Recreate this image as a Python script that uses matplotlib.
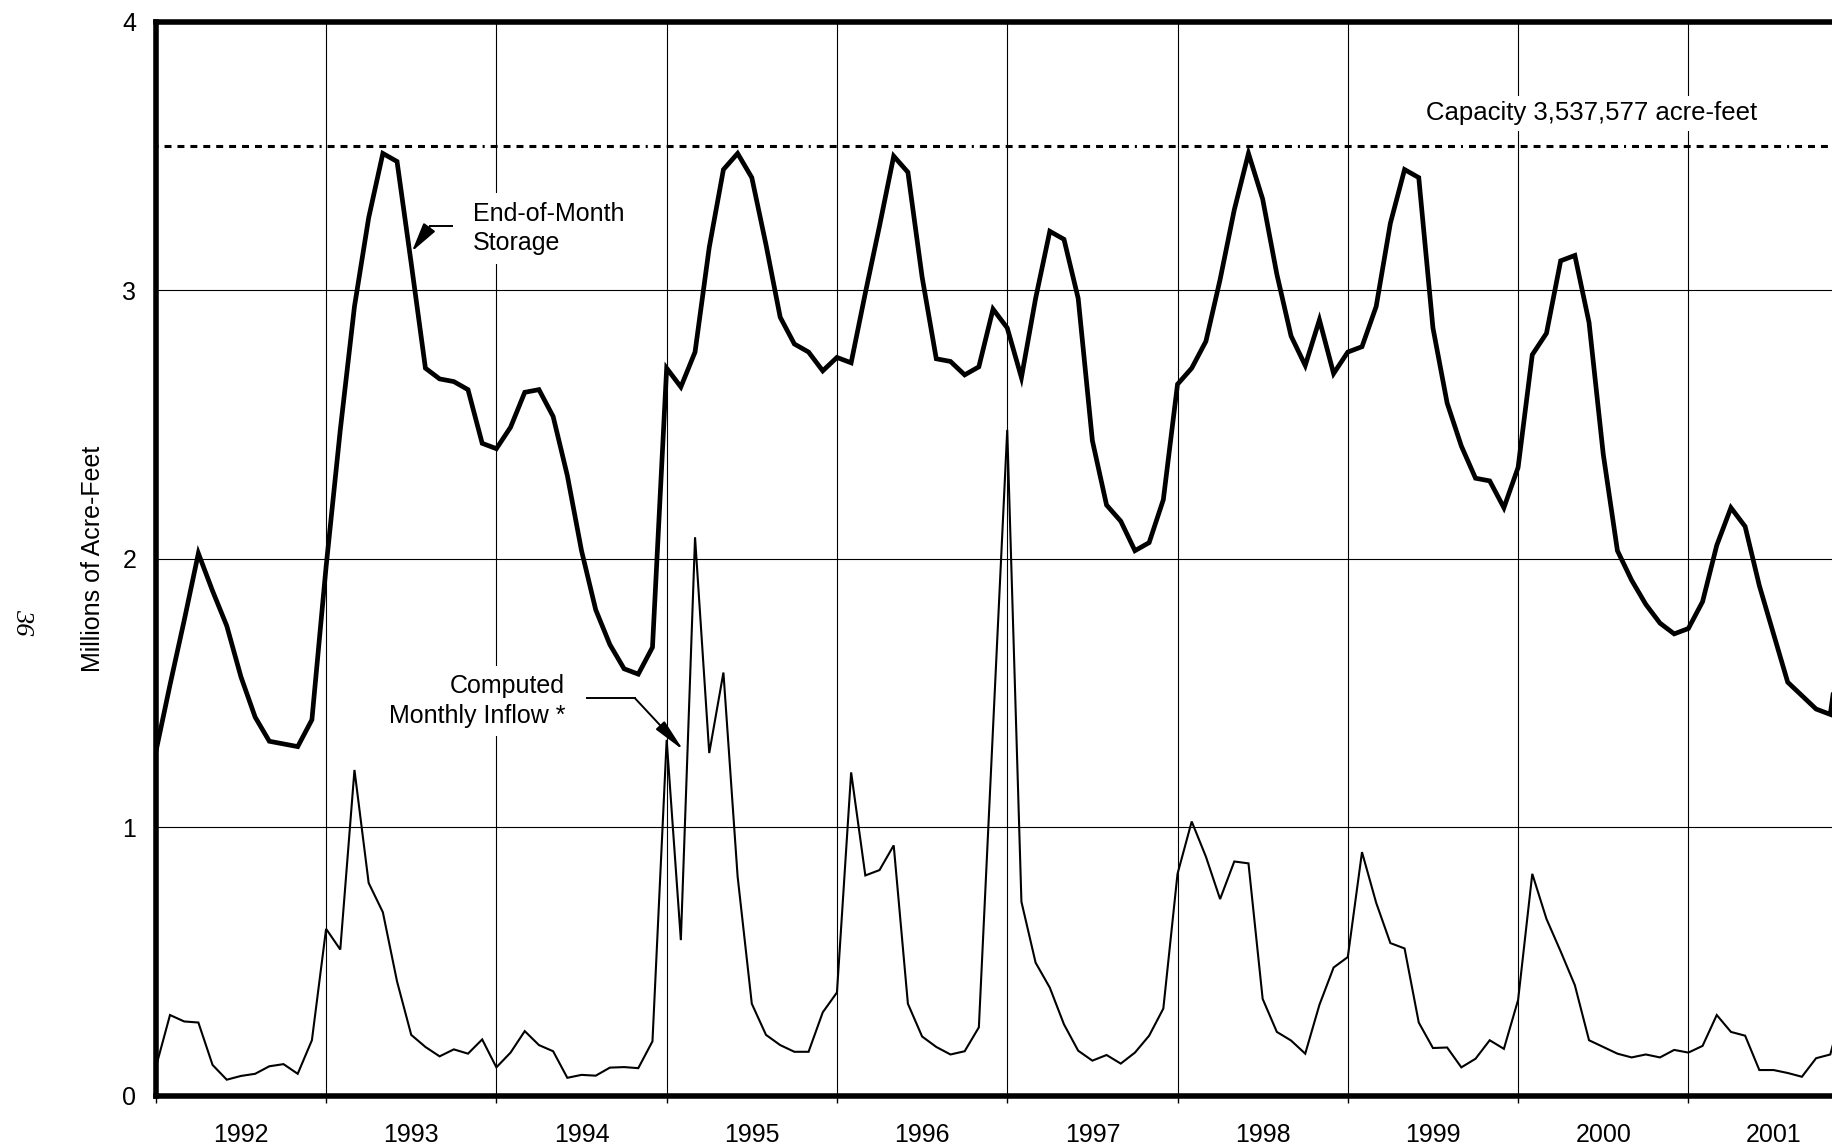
import numpy as np
import matplotlib
matplotlib.use("Agg")
import matplotlib.pyplot as plt

# End-of-month storage and computed monthly inflow, millions of acre-feet
# one value per month starting January 1992
storage = [1.28, 1.53, 1.77, 2.02, 1.88, 1.75, 1.56, 1.41, 1.32, 1.31, 1.30, 1.40,
           1.97, 2.48, 2.94, 3.27, 3.51, 3.48, 3.10, 2.71, 2.67, 2.66, 2.63, 2.43,
           2.41, 2.49, 2.62, 2.63, 2.53, 2.31, 2.03, 1.81, 1.68, 1.59, 1.57, 1.67,
           2.71, 2.64, 2.77, 3.16, 3.45, 3.51, 3.42, 3.17, 2.90, 2.80, 2.77, 2.70,
           2.75, 2.73, 2.99, 3.24, 3.50, 3.44, 3.05, 2.745, 2.735, 2.685, 2.715, 2.93,
           2.86, 2.675, 2.97, 3.22, 3.19, 2.97, 2.44, 2.20, 2.14, 2.03, 2.06, 2.22,
           2.65, 2.71, 2.81, 3.04, 3.30, 3.51, 3.34, 3.06, 2.83, 2.72, 2.89, 2.69,
           2.77, 2.79, 2.94, 3.25, 3.45, 3.42, 2.86, 2.58, 2.42, 2.30, 2.29, 2.19,
           2.34, 2.76, 2.84, 3.11, 3.13, 2.88, 2.39, 2.03, 1.92, 1.83, 1.76, 1.72,
           1.74, 1.84, 2.05, 2.19, 2.12, 1.90, 1.72, 1.54, 1.49, 1.44, 1.42, 1.80]

inflow = [0.105, 0.30, 0.276, 0.272, 0.114, 0.059, 0.073, 0.081, 0.109, 0.117, 0.081, 0.206,
          0.621, 0.544, 1.213, 0.792, 0.683, 0.425, 0.226, 0.181, 0.146, 0.172, 0.156, 0.209,
          0.105, 0.160, 0.240, 0.188, 0.165, 0.066, 0.077, 0.074, 0.104, 0.106, 0.102, 0.202,
          1.325, 0.579, 2.08, 1.276, 1.576, 0.816, 0.342, 0.226, 0.188, 0.163, 0.163, 0.310,
          0.384, 1.204, 0.820, 0.840, 0.932, 0.342, 0.220, 0.181, 0.153, 0.165, 0.254, 1.37,
          2.48, 0.722, 0.495, 0.402, 0.265, 0.167, 0.130, 0.151, 0.119, 0.160, 0.223, 0.324,
          0.826, 1.021, 0.89, 0.732, 0.872, 0.865, 0.360, 0.237, 0.205, 0.156, 0.338, 0.477,
          0.516, 0.907, 0.718, 0.568, 0.548, 0.272, 0.177, 0.179, 0.105, 0.137, 0.206, 0.174,
          0.356, 0.826, 0.658, 0.537, 0.411, 0.206, 0.181, 0.156, 0.142, 0.153, 0.142, 0.170,
          0.160, 0.185, 0.300, 0.237, 0.223, 0.095, 0.095, 0.084, 0.070, 0.139, 0.153, 0.35]

years = [str(y) for y in range(1992, 2002)]
capacity = 3.537577

plt.rcParams['font.family'] = ['Liberation Sans', 'DejaVu Sans']
plt.rcParams['lines.scale_dashes'] = False

fig = plt.figure(figsize=(18.33, 11.48), dpi=100)
# the plot runs off the right edge of the page, like the scanned original
ax = fig.add_axes([0.0850, 0.0457, 0.9290, 0.9352])

months = np.arange(len(storage))
ax.plot(months, storage, color='black', lw=3.4, solid_joinstyle='miter', zorder=4)
ax.plot(months, inflow, color='black', lw=1.5, solid_joinstyle='miter', zorder=4)

cap = ax.axhline(capacity, color='black', lw=2.2, zorder=3)
cap.set_dashes([1.5, 4.3] + [5.0, 4.3] * 12)

ax.set_xlim(0, 120)
ax.set_ylim(0, 4)

ax.set_xticks(np.arange(0, 121, 12))
ax.set_xticklabels([])
ax.set_xticks(np.arange(6, 120, 12), minor=True)
ax.set_xticklabels(years, minor=True)
ax.tick_params(axis='x', which='major', length=5, width=1, direction='out')
ax.tick_params(axis='x', which='minor', length=0, pad=20, labelsize=18)
ax.set_yticks([0, 1, 2, 3, 4])
ax.tick_params(axis='y', length=0, pad=14, labelsize=18)

ax.grid(True, which='major', color='black', lw=0.8)
for s in ax.spines.values():
    s.set_linewidth(4)

ax.text(-0.0366, 0.5, 'Millions of Acre-Feet', transform=ax.transAxes,
        rotation=90, ha='center', va='center', fontsize=18)

box = dict(facecolor='white', edgecolor='none', pad=6)

# labels with leader arrows
ax.text(22.35, 3.23, "End-of-Month\nStorage", fontsize=18, ha='left', va='center',
        linespacing=1.3, bbox=box, zorder=3)
ax.plot([20.87, 19.32], [3.238, 3.238], color='black', lw=1.4, zorder=5)
ax.annotate('', xy=(18.05, 3.145), xytext=(19.32, 3.238),
            arrowprops=dict(arrowstyle='-|>,head_length=0.9,head_width=0.22',
                            color='black', lw=1.4, shrinkA=0, shrinkB=0,
                            mutation_scale=20), zorder=5)

ax.text(28.84, 1.4706, "Computed\nMonthly Inflow *", fontsize=18, ha='right', va='center',
        multialignment='right', linespacing=1.3, bbox=box, zorder=3)
ax.plot([30.37, 33.77], [1.48, 1.48], color='black', lw=1.4, zorder=5)
ax.annotate('', xy=(37.17, 1.287), xytext=(33.77, 1.48),
            arrowprops=dict(arrowstyle='-|>,head_length=1.0,head_width=0.18',
                            color='black', lw=1.4, shrinkA=0, shrinkB=0,
                            mutation_scale=20), zorder=5)

ax.text(101.2, 3.66, "Capacity 3,537,577 acre-feet", fontsize=18.5, ha='center',
        va='center', bbox=dict(facecolor='white', edgecolor='none', pad=4), zorder=3)

# page number printed sideways in the margin
fig.text(0.012, 0.458, "36", rotation=-90, fontsize=19, family='Liberation Serif',
         style='italic', ha='center', va='center')

fig.savefig('out.png', dpi=100)
